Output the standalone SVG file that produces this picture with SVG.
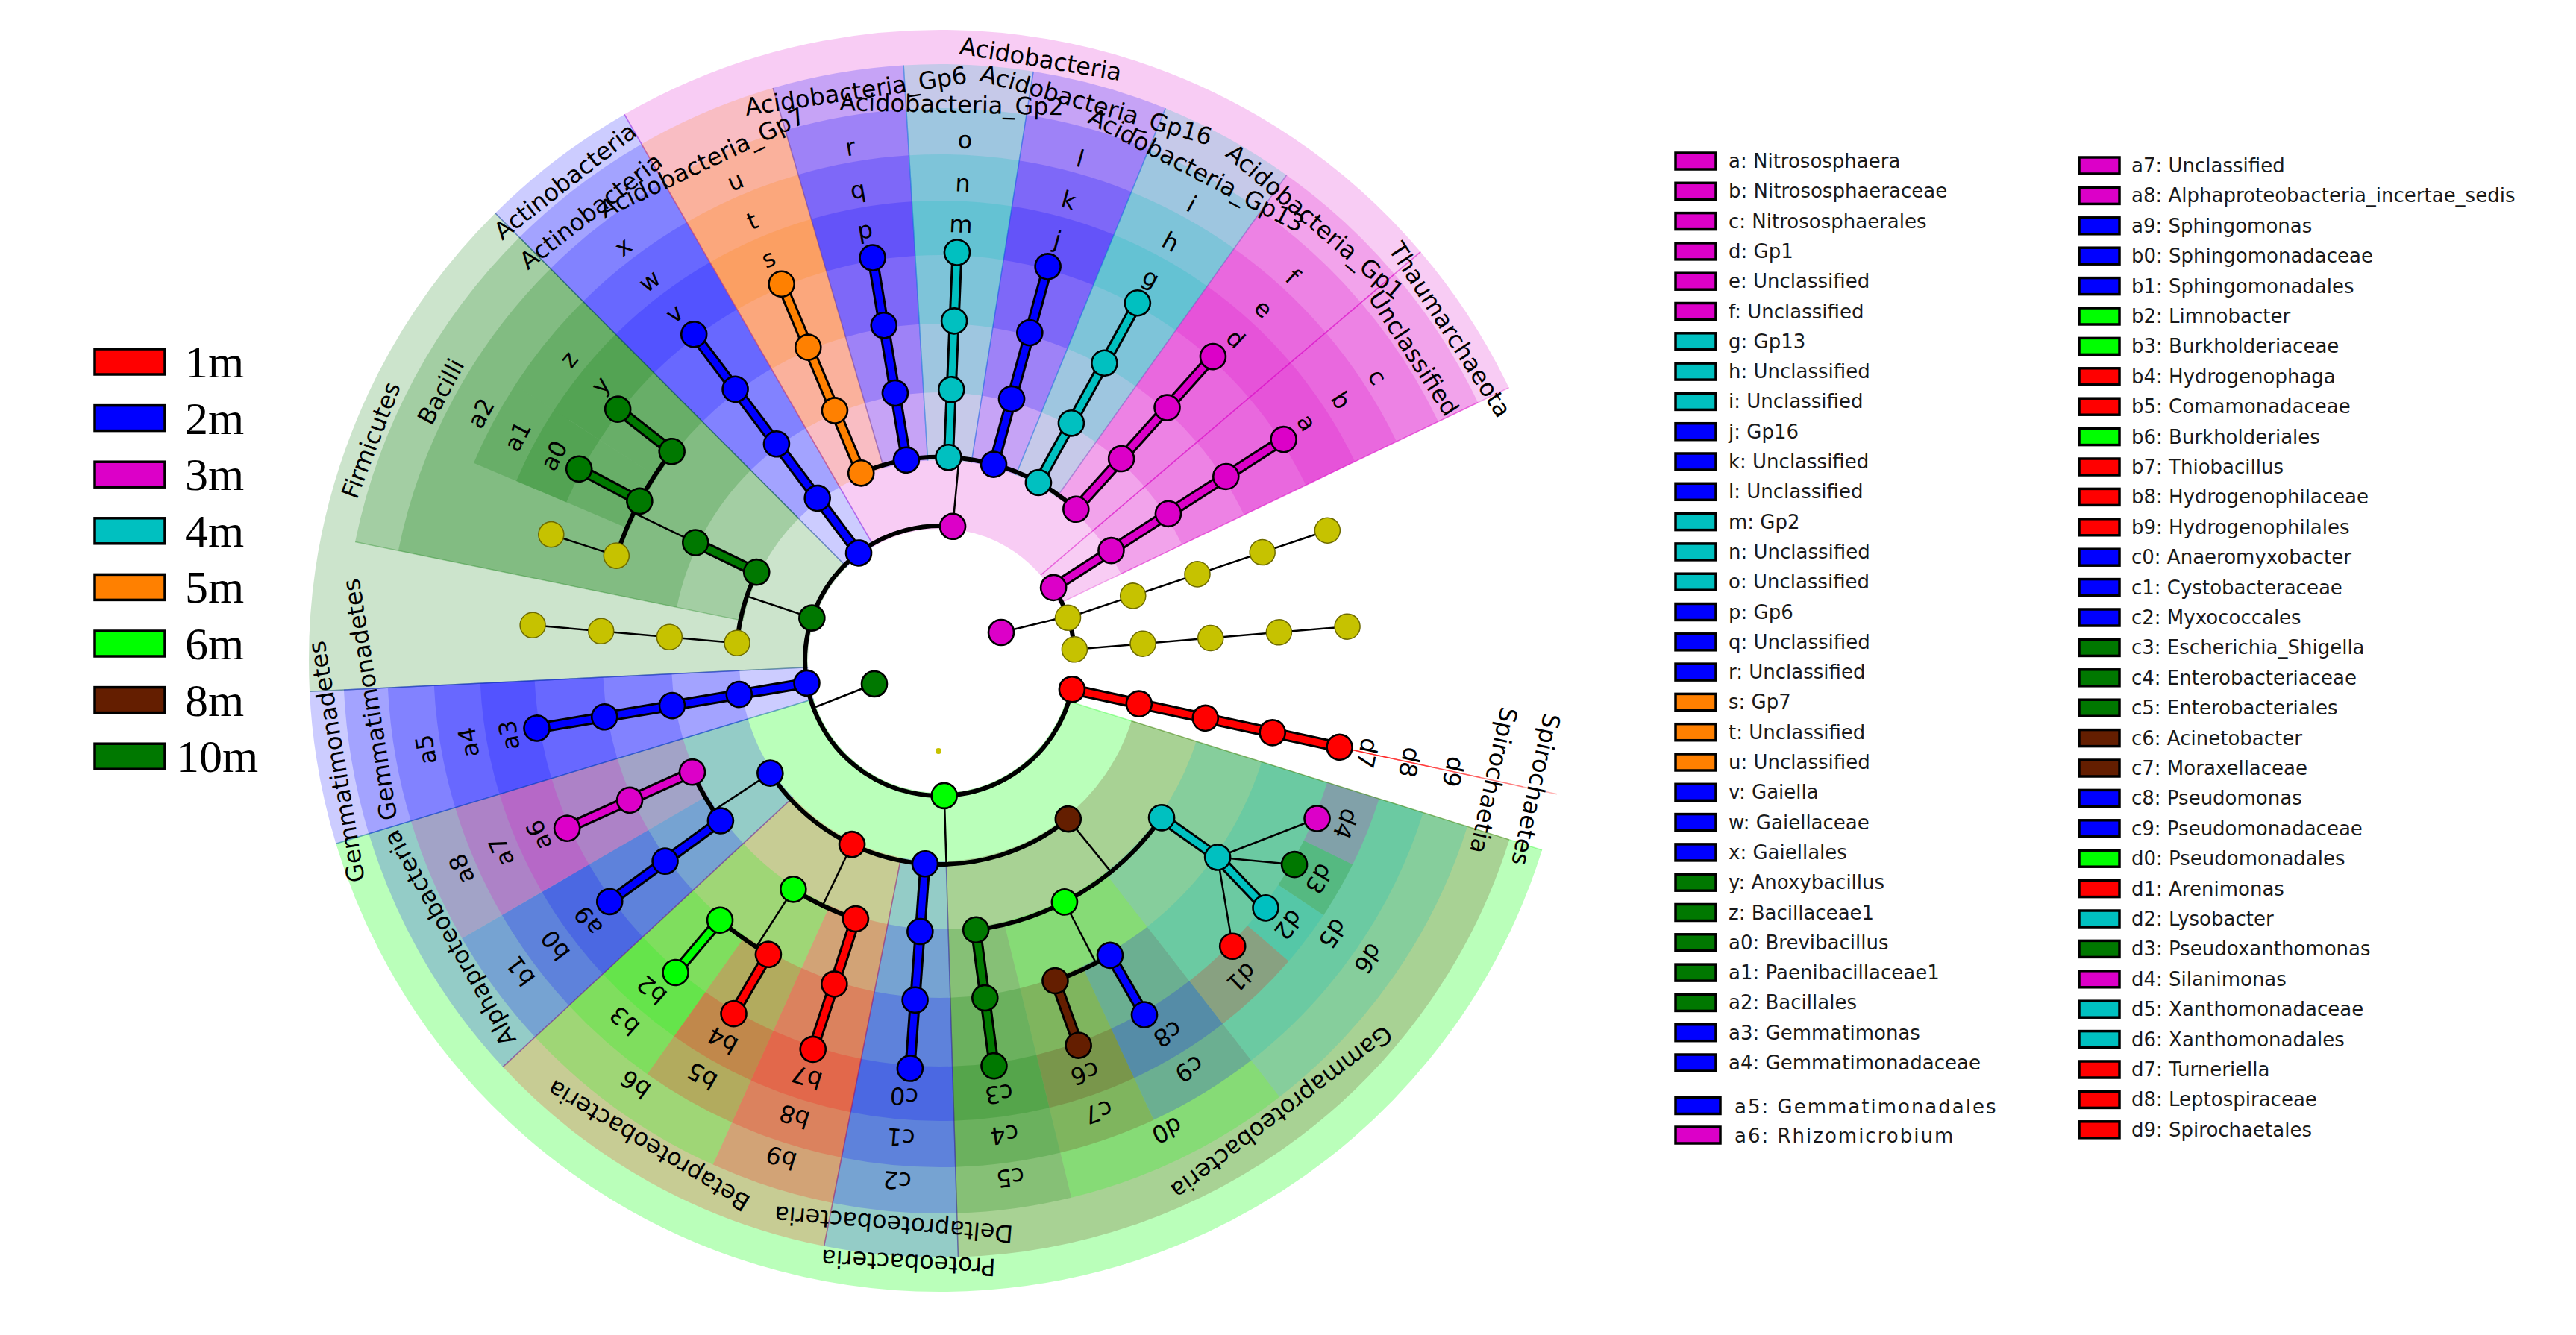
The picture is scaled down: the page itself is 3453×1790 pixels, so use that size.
<svg xmlns="http://www.w3.org/2000/svg" width="3453" height="1790" viewBox="0 0 3453 1790">
<style>
.w{fill:none;stroke-opacity:.2}
.e{stroke-opacity:.3;stroke-width:1.5}
.a{fill:none;stroke:#000;stroke-width:6}
.t{stroke:#000;stroke-width:2.5}
.u{stroke:#000;stroke-width:15}
.k{stroke-width:9}
.n{stroke:#000;stroke-width:2.6}
.y{fill:#c6c200;stroke:#6e6b00;stroke-width:1.5}
.lb{font-family:'DejaVu Sans',sans-serif;font-size:32px;text-anchor:middle;dominant-baseline:central;fill:#000}
.R{fill:#f00}.B{fill:#00f}.M{fill:#dc00c8}.T{fill:#00c0c0}.O{fill:#ff8000}.L{fill:#0f0}.N{fill:#641e00}.G{fill:#007800}
.sR{stroke:#f00}.sB{stroke:#00f}.sM{stroke:#dc00c8}.sT{stroke:#00c0c0}.sO{stroke:#ff8000}.sL{stroke:#0f0}.sN{stroke:#641e00}.sG{stroke:#007800}
.lg{font-family:'DejaVu Sans',sans-serif;font-size:26px;fill:#1a1a1a}
.sw{stroke:#000;stroke-width:3.5}
.ls{font-family:'Liberation Serif','Times New Roman',serif;font-size:62px;fill:#000}
</style>
<rect width="3453" height="1790" fill="#fff"/>
<g transform="translate(1260,886)">
<g id="wedges">
<g id="lev1">
<circle class="w sL" style="stroke-opacity:.27" r="511.5" stroke-width="669" pathLength="360" stroke-dasharray="145.7 360" transform="rotate(17.45)"/>
<circle class="w sB" r="511.5" stroke-width="669" pathLength="360" stroke-dasharray="14.05 360" transform="rotate(163.15)"/>
<circle class="w sG" r="511.5" stroke-width="669" pathLength="360" stroke-dasharray="48 360" transform="rotate(177.2)"/>
<circle class="w sB" r="511.5" stroke-width="669" pathLength="360" stroke-dasharray="14.8 360" transform="rotate(225.2)"/>
<circle class="w sM" r="511.5" stroke-width="669" pathLength="360" stroke-dasharray="79.6 360" transform="rotate(240)"/>
<circle class="w sM" r="511.5" stroke-width="669" pathLength="360" stroke-dasharray="14.75 360" transform="rotate(319.6)"/>
</g>
<g id="lev2">
<circle class="w sN" r="534.5" stroke-width="531" pathLength="360" stroke-dasharray="70.8 360" transform="rotate(17.45)"/>
<circle class="w sB" r="534.5" stroke-width="531" pathLength="360" stroke-dasharray="12.95 360" transform="rotate(88.25)"/>
<circle class="w sR" r="534.5" stroke-width="531" pathLength="360" stroke-dasharray="35.9 360" transform="rotate(101.2)"/>
<circle class="w sB" r="534.5" stroke-width="531" pathLength="360" stroke-dasharray="26.05 360" transform="rotate(137.1)"/>
<circle class="w sB" r="534.5" stroke-width="531" pathLength="360" stroke-dasharray="14.05 360" transform="rotate(163.15)"/>
<circle class="w sG" r="534.5" stroke-width="531" pathLength="360" stroke-dasharray="33.7 360" transform="rotate(191.5)"/>
<circle class="w sB" r="534.5" stroke-width="531" pathLength="360" stroke-dasharray="14.8 360" transform="rotate(225.2)"/>
<circle class="w sO" r="534.5" stroke-width="531" pathLength="360" stroke-dasharray="13.75 360" transform="rotate(240)"/>
<circle class="w sB" r="534.5" stroke-width="531" pathLength="360" stroke-dasharray="12.75 360" transform="rotate(253.75)"/>
<circle class="w sT" r="534.5" stroke-width="531" pathLength="360" stroke-dasharray="12.5 360" transform="rotate(266.5)"/>
<circle class="w sB" r="534.5" stroke-width="531" pathLength="360" stroke-dasharray="13.2 360" transform="rotate(279)"/>
<circle class="w sT" r="534.5" stroke-width="531" pathLength="360" stroke-dasharray="13.3 360" transform="rotate(292.2)"/>
<circle class="w sM" r="534.5" stroke-width="531" pathLength="360" stroke-dasharray="14.1 360" transform="rotate(305.5)"/>
<circle class="w sM" r="534.5" stroke-width="531" pathLength="360" stroke-dasharray="14.75 360" transform="rotate(319.6)"/>
</g>
<g id="lev3">
<circle class="w sT" r="550.5" stroke-width="381" pathLength="360" stroke-dasharray="34.65 360" transform="rotate(17.45)"/>
<circle class="w sL" r="550.5" stroke-width="381" pathLength="360" stroke-dasharray="24.15 360" transform="rotate(52.1)"/>
<circle class="w sG" r="550.5" stroke-width="381" pathLength="360" stroke-dasharray="12 360" transform="rotate(76.25)"/>
<circle class="w sB" r="550.5" stroke-width="381" pathLength="360" stroke-dasharray="12.95 360" transform="rotate(88.25)"/>
<circle class="w sR" r="550.5" stroke-width="381" pathLength="360" stroke-dasharray="13.05 360" transform="rotate(101.2)"/>
<circle class="w sL" r="550.5" stroke-width="381" pathLength="360" stroke-dasharray="22.85 360" transform="rotate(114.25)"/>
<circle class="w sB" r="550.5" stroke-width="381" pathLength="360" stroke-dasharray="12.75 360" transform="rotate(137.1)"/>
<circle class="w sM" r="550.5" stroke-width="381" pathLength="360" stroke-dasharray="13.3 360" transform="rotate(149.85)"/>
<circle class="w sB" r="550.5" stroke-width="381" pathLength="360" stroke-dasharray="14.05 360" transform="rotate(163.15)"/>
<circle class="w sG" r="550.5" stroke-width="381" pathLength="360" stroke-dasharray="33.7 360" transform="rotate(191.5)"/>
<circle class="w sB" r="550.5" stroke-width="381" pathLength="360" stroke-dasharray="14.8 360" transform="rotate(225.2)"/>
<circle class="w sO" r="550.5" stroke-width="381" pathLength="360" stroke-dasharray="13.75 360" transform="rotate(240)"/>
<circle class="w sB" r="550.5" stroke-width="381" pathLength="360" stroke-dasharray="12.75 360" transform="rotate(253.75)"/>
<circle class="w sT" r="550.5" stroke-width="381" pathLength="360" stroke-dasharray="12.5 360" transform="rotate(266.5)"/>
<circle class="w sB" r="550.5" stroke-width="381" pathLength="360" stroke-dasharray="13.2 360" transform="rotate(279)"/>
<circle class="w sT" r="550.5" stroke-width="381" pathLength="360" stroke-dasharray="13.3 360" transform="rotate(292.2)"/>
<circle class="w sM" r="550.5" stroke-width="381" pathLength="360" stroke-dasharray="14.1 360" transform="rotate(305.5)"/>
<circle class="w sM" r="550.5" stroke-width="381" pathLength="360" stroke-dasharray="14.75 360" transform="rotate(319.6)"/>
</g>
<g id="lev4">
<circle class="w sT" r="565.5" stroke-width="227" pathLength="360" stroke-dasharray="34.65 360" transform="rotate(17.45)"/>
<circle class="w sB" r="565.5" stroke-width="227" pathLength="360" stroke-dasharray="12.95 360" transform="rotate(52.1)"/>
<circle class="w sN" r="565.5" stroke-width="227" pathLength="360" stroke-dasharray="11.2 360" transform="rotate(65.05)"/>
<circle class="w sG" r="565.5" stroke-width="227" pathLength="360" stroke-dasharray="12 360" transform="rotate(76.25)"/>
<circle class="w sB" r="565.5" stroke-width="227" pathLength="360" stroke-dasharray="12.95 360" transform="rotate(88.25)"/>
<circle class="w sR" r="565.5" stroke-width="227" pathLength="360" stroke-dasharray="13.05 360" transform="rotate(101.2)"/>
<circle class="w sR" r="565.5" stroke-width="227" pathLength="360" stroke-dasharray="11.05 360" transform="rotate(114.25)"/>
<circle class="w sL" r="565.5" stroke-width="227" pathLength="360" stroke-dasharray="11.8 360" transform="rotate(125.3)"/>
<circle class="w sB" r="565.5" stroke-width="227" pathLength="360" stroke-dasharray="12.75 360" transform="rotate(137.1)"/>
<circle class="w sM" r="565.5" stroke-width="227" pathLength="360" stroke-dasharray="13.3 360" transform="rotate(149.85)"/>
<circle class="w sB" r="565.5" stroke-width="227" pathLength="360" stroke-dasharray="14.05 360" transform="rotate(163.15)"/>
<circle class="w sG" r="565.5" stroke-width="227" pathLength="360" stroke-dasharray="10 360" transform="rotate(203)"/>
<circle class="w sG" r="565.5" stroke-width="227" pathLength="360" stroke-dasharray="12.2 360" transform="rotate(213)"/>
<circle class="w sB" r="565.5" stroke-width="227" pathLength="360" stroke-dasharray="14.8 360" transform="rotate(225.2)"/>
<circle class="w sO" r="565.5" stroke-width="227" pathLength="360" stroke-dasharray="13.75 360" transform="rotate(240)"/>
<circle class="w sB" r="565.5" stroke-width="227" pathLength="360" stroke-dasharray="12.75 360" transform="rotate(253.75)"/>
<circle class="w sT" r="565.5" stroke-width="227" pathLength="360" stroke-dasharray="12.5 360" transform="rotate(266.5)"/>
<circle class="w sB" r="565.5" stroke-width="227" pathLength="360" stroke-dasharray="13.2 360" transform="rotate(279)"/>
<circle class="w sT" r="565.5" stroke-width="227" pathLength="360" stroke-dasharray="13.3 360" transform="rotate(292.2)"/>
<circle class="w sM" r="565.5" stroke-width="227" pathLength="360" stroke-dasharray="14.1 360" transform="rotate(305.5)"/>
<circle class="w sM" r="565.5" stroke-width="227" pathLength="360" stroke-dasharray="14.75 360" transform="rotate(319.6)"/>
</g>
<g id="lev5">
<circle class="w sM" r="580.5" stroke-width="73" pathLength="360" stroke-dasharray="8.85 360" transform="rotate(17.45)"/>
<circle class="w sG" r="580.5" stroke-width="73" pathLength="360" stroke-dasharray="7.25 360" transform="rotate(26.3)"/>
<circle class="w sT" r="580.5" stroke-width="73" pathLength="360" stroke-dasharray="7.2 360" transform="rotate(33.55)"/>
<circle class="w sR" r="580.5" stroke-width="73" pathLength="360" stroke-dasharray="11.35 360" transform="rotate(40.75)"/>
<circle class="w sB" r="580.5" stroke-width="73" pathLength="360" stroke-dasharray="12.95 360" transform="rotate(52.1)"/>
<circle class="w sN" r="580.5" stroke-width="73" pathLength="360" stroke-dasharray="11.2 360" transform="rotate(65.05)"/>
<circle class="w sG" r="580.5" stroke-width="73" pathLength="360" stroke-dasharray="12 360" transform="rotate(76.25)"/>
<circle class="w sB" r="580.5" stroke-width="73" pathLength="360" stroke-dasharray="12.95 360" transform="rotate(88.25)"/>
<circle class="w sR" r="580.5" stroke-width="73" pathLength="360" stroke-dasharray="13.05 360" transform="rotate(101.2)"/>
<circle class="w sR" r="580.5" stroke-width="73" pathLength="360" stroke-dasharray="11.05 360" transform="rotate(114.25)"/>
<circle class="w sL" r="580.5" stroke-width="73" pathLength="360" stroke-dasharray="11.8 360" transform="rotate(125.3)"/>
<circle class="w sB" r="580.5" stroke-width="73" pathLength="360" stroke-dasharray="12.75 360" transform="rotate(137.1)"/>
<circle class="w sM" r="580.5" stroke-width="73" pathLength="360" stroke-dasharray="13.3 360" transform="rotate(149.85)"/>
<circle class="w sB" r="580.5" stroke-width="73" pathLength="360" stroke-dasharray="14.05 360" transform="rotate(163.15)"/>
<circle class="w sG" r="580.5" stroke-width="73" pathLength="360" stroke-dasharray="10 360" transform="rotate(203)"/>
<circle class="w sG" r="580.5" stroke-width="73" pathLength="360" stroke-dasharray="12.2 360" transform="rotate(213)"/>
<circle class="w sB" r="580.5" stroke-width="73" pathLength="360" stroke-dasharray="14.8 360" transform="rotate(225.2)"/>
<circle class="w sO" r="580.5" stroke-width="73" pathLength="360" stroke-dasharray="13.75 360" transform="rotate(240)"/>
<circle class="w sB" r="580.5" stroke-width="73" pathLength="360" stroke-dasharray="12.75 360" transform="rotate(253.75)"/>
<circle class="w sT" r="580.5" stroke-width="73" pathLength="360" stroke-dasharray="12.5 360" transform="rotate(266.5)"/>
<circle class="w sB" r="580.5" stroke-width="73" pathLength="360" stroke-dasharray="13.2 360" transform="rotate(279)"/>
<circle class="w sT" r="580.5" stroke-width="73" pathLength="360" stroke-dasharray="13.3 360" transform="rotate(292.2)"/>
<circle class="w sM" r="580.5" stroke-width="73" pathLength="360" stroke-dasharray="14.1 360" transform="rotate(305.5)"/>
<circle class="w sM" r="580.5" stroke-width="73" pathLength="360" stroke-dasharray="14.75 360" transform="rotate(319.6)"/>
</g>
<g id="wedge-edges">
<line class="e sL" x1="177" x2="846" transform="rotate(17.45)"/><line class="e sL" x1="177" x2="846" transform="rotate(163.15)"/>
<line class="e sB" x1="177" x2="846" transform="rotate(163.15)"/><line class="e sB" x1="177" x2="846" transform="rotate(177.2)"/>
<line class="e sG" x1="177" x2="846" transform="rotate(177.2)"/><line class="e sG" x1="177" x2="846" transform="rotate(225.2)"/>
<line class="e sB" x1="177" x2="846" transform="rotate(225.2)"/><line class="e sB" x1="177" x2="846" transform="rotate(240)"/>
<line class="e sM" x1="177" x2="846" transform="rotate(240)"/><line class="e sM" x1="177" x2="846" transform="rotate(319.6)"/>
<line class="e sM" x1="177" x2="846" transform="rotate(319.6)"/><line class="e sM" x1="177" x2="846" transform="rotate(334.35)"/>
<line class="e sN" x1="269" x2="800" transform="rotate(17.45)"/><line class="e sN" x1="269" x2="800" transform="rotate(88.25)"/>
<line class="e sB" x1="269" x2="800" transform="rotate(88.25)"/><line class="e sB" x1="269" x2="800" transform="rotate(101.2)"/>
<line class="e sR" x1="269" x2="800" transform="rotate(101.2)"/><line class="e sR" x1="269" x2="800" transform="rotate(137.1)"/>
<line class="e sB" x1="269" x2="800" transform="rotate(137.1)"/><line class="e sB" x1="269" x2="800" transform="rotate(163.15)"/>
<line class="e sB" x1="269" x2="800" transform="rotate(177.2)"/>
<line class="e sG" x1="269" x2="800" transform="rotate(191.5)"/><line class="e sG" x1="269" x2="800" transform="rotate(225.2)"/>
<line class="e sO" x1="269" x2="800" transform="rotate(240)"/><line class="e sO" x1="269" x2="800" transform="rotate(253.75)"/>
<line class="e sB" x1="269" x2="800" transform="rotate(253.75)"/><line class="e sB" x1="269" x2="800" transform="rotate(266.5)"/>
<line class="e sT" x1="269" x2="800" transform="rotate(266.5)"/><line class="e sT" x1="269" x2="800" transform="rotate(279)"/>
<line class="e sB" x1="269" x2="800" transform="rotate(279)"/><line class="e sB" x1="269" x2="800" transform="rotate(292.2)"/>
<line class="e sT" x1="269" x2="800" transform="rotate(292.2)"/><line class="e sT" x1="269" x2="800" transform="rotate(305.5)"/>
<line class="e sM" x1="269" x2="800" transform="rotate(305.5)"/><line class="e sM" x1="269" x2="800" transform="rotate(319.6)"/>
<line class="e sM" x1="269" x2="800" transform="rotate(334.35)"/>
<line class="e sR" x1="177" x2="846" transform="rotate(12.2)"/><line class="e sR" x1="269" x2="800" transform="rotate(12.2)"/>
<line class="e sR" x1="360" x2="741" transform="rotate(12.2)"/><line class="e sR" x1="452" x2="679" transform="rotate(12.2)"/>
<line class="e sR" x1="544" x2="617" transform="rotate(12.2)"/>
</g>
</g>
<g id="connectors">
<g id="arcs">
<circle class="a" r="181" pathLength="360" stroke-dasharray="263.2 360" transform="rotate(12.2)"/>
<circle class="a" r="181" pathLength="360" stroke-dasharray="28 360" transform="rotate(-32.8)"/>
<circle class="a" r="273" pathLength="360" stroke-dasharray="95.5 360" transform="rotate(51)"/>
<circle class="a" r="364" pathLength="360" stroke-dasharray="47.1 360" transform="rotate(35.3)"/>
<circle class="a" r="456" pathLength="360" stroke-dasharray="10.2 360" transform="rotate(60)"/>
<circle class="a" r="364" pathLength="360" stroke-dasharray="14.6 360" transform="rotate(108.1)"/>
<circle class="a" r="456" pathLength="360" stroke-dasharray="10 360" transform="rotate(120.3)"/>
<circle class="a" r="364" pathLength="360" stroke-dasharray="11.9 360" transform="rotate(143.9)"/>
<circle class="a" r="273" pathLength="360" stroke-dasharray="20.8 360" transform="rotate(185)"/>
<circle class="a" r="456" pathLength="360" stroke-dasharray="20 360" transform="rotate(198)"/>
<circle class="a" r="273" pathLength="360" stroke-dasharray="64.7 360" transform="rotate(247.2)"/>
</g>
<g id="thin-edges">
<line class="t" x1="181" x2="273" transform="rotate(88.2)"/>
<line class="t" x1="273" x2="364" transform="rotate(51)"/>
<line class="t" x1="364" x2="456" transform="rotate(62.7)"/>
<line class="t" x1="273" x2="364" transform="rotate(115.6)"/>
<line class="t" x1="364" x2="456" transform="rotate(122.7)"/>
<line class="t" x1="273" x2="364" transform="rotate(146.5)"/>
<line class="t" x1="181" x2="273" transform="rotate(198.5)"/>
<line class="t" x1="364" x2="456" transform="rotate(205.8)"/>
<line class="t" x1="181" x2="273" transform="rotate(275.4)"/>
<line class="t" x1="273" x2="548" transform="rotate(185)"/>
<line class="t" x1="456" x2="548" transform="rotate(198)"/>
<line class="t" x1="181" x2="548" transform="rotate(341.4)"/>
<line class="t" x1="181" x2="548" transform="rotate(355.2)"/>
<line class="t" x1="372.1" y1="263.5" x2="505.6" y2="211.5"/>
<line class="t" x1="372.1" y1="263.5" x2="475.1" y2="273.2"/>
<line class="t" x1="372.1" y1="263.5" x2="392.2" y2="382.7"/>
<line class="t" x1="82" y1="-38" x2="172" y2="-60"/>
<line class="t" x1="-88" y1="31" x2="-167" y2="62"/>
</g>
<g id="thick-edges-outline">
<line class="u" x1="181" x2="548" transform="rotate(12.2)"/>
<line class="u" x1="364" x2="456" transform="rotate(35.3)"/>
<line class="u" x1="372.1" y1="263.5" x2="436.5" y2="331.3"/>
<line class="u" x1="456" x2="548" transform="rotate(60)"/>
<line class="u" x1="456" x2="548" transform="rotate(70.2)"/>
<line class="u" x1="364" x2="548" transform="rotate(82.4)"/>
<line class="u" x1="273" x2="548" transform="rotate(94.2)"/>
<line class="u" x1="364" x2="548" transform="rotate(108.1)"/>
<line class="u" x1="456" x2="548" transform="rotate(120.3)"/>
<line class="u" x1="456" x2="548" transform="rotate(130.3)"/>
<line class="u" x1="364" x2="548" transform="rotate(143.9)"/>
<line class="u" x1="364" x2="548" transform="rotate(155.8)"/>
<line class="u" x1="181" x2="548" transform="rotate(170.5)"/>
<line class="u" x1="273" x2="364" transform="rotate(205.8)"/>
<line class="u" x1="456" x2="548" transform="rotate(208)"/>
<line class="u" x1="456" x2="548" transform="rotate(218)"/>
<line class="u" x1="181" x2="548" transform="rotate(233)"/>
<line class="u" x1="273" x2="548" transform="rotate(247.2)"/>
<line class="u" x1="273" x2="548" transform="rotate(260.5)"/>
<line class="u" x1="273" x2="548" transform="rotate(272.4)"/>
<line class="u" x1="273" x2="548" transform="rotate(285.3)"/>
<line class="u" x1="273" x2="548" transform="rotate(298.9)"/>
<line class="u" x1="273" x2="548" transform="rotate(311.9)"/>
<line class="u" x1="181" x2="548" transform="rotate(327.2)"/>
</g>
<g id="thick-edges">
<line class="k sR" x1="181" x2="548" transform="rotate(12.2)"/>
<line class="k sT" x1="364" x2="456" transform="rotate(35.3)"/>
<line class="k sT" x1="372.1" y1="263.5" x2="436.5" y2="331.3"/>
<line class="k sB" x1="456" x2="548" transform="rotate(60)"/>
<line class="k sN" x1="456" x2="548" transform="rotate(70.2)"/>
<line class="k sG" x1="364" x2="548" transform="rotate(82.4)"/>
<line class="k sB" x1="273" x2="548" transform="rotate(94.2)"/>
<line class="k sR" x1="364" x2="548" transform="rotate(108.1)"/>
<line class="k sR" x1="456" x2="548" transform="rotate(120.3)"/>
<line class="k sL" x1="456" x2="548" transform="rotate(130.3)"/>
<line class="k sB" x1="364" x2="548" transform="rotate(143.9)"/>
<line class="k sM" x1="364" x2="548" transform="rotate(155.8)"/>
<line class="k sB" x1="181" x2="548" transform="rotate(170.5)"/>
<line class="k sG" x1="273" x2="364" transform="rotate(205.8)"/>
<line class="k sG" x1="456" x2="548" transform="rotate(208)"/>
<line class="k sG" x1="456" x2="548" transform="rotate(218)"/>
<line class="k sB" x1="181" x2="548" transform="rotate(233)"/>
<line class="k sO" x1="273" x2="548" transform="rotate(247.2)"/>
<line class="k sB" x1="273" x2="548" transform="rotate(260.5)"/>
<line class="k sT" x1="273" x2="548" transform="rotate(272.4)"/>
<line class="k sB" x1="273" x2="548" transform="rotate(285.3)"/>
<line class="k sT" x1="273" x2="548" transform="rotate(298.9)"/>
<line class="k sM" x1="273" x2="548" transform="rotate(311.9)"/>
<line class="k sM" x1="181" x2="548" transform="rotate(327.2)"/>
</g>
</g>
<g id="nodes">
<g id="node-root"><circle cx="-2" cy="121" r="4" fill="#c6c200"/></g>
<g id="node-Bacteria"><circle class="n G" cx="-88" cy="31" r="17"/></g>
<g id="node-Archaea"><circle class="n M" cx="82" cy="-38" r="17"/></g>
<g id="node-Spirochaetes"><circle class="n R" cx="181" r="17" transform="rotate(12.2)"/><text class="lb" font-size="33" transform="rotate(12.2) translate(817) rotate(90)">Spirochaetes</text></g>
<g id="node-Spirochaetia"><circle class="n R" cx="273" r="17" transform="rotate(12.2)"/><text class="lb" font-size="33" transform="rotate(12.2) translate(759) rotate(90)">Spirochaetia</text></g>
<g id="node-d9"><circle class="n R" cx="364" r="17" transform="rotate(12.2)"/><text class="lb" transform="rotate(12.2) translate(704) rotate(90)">d9</text></g>
<g id="node-d8"><circle class="n R" cx="456" r="17" transform="rotate(12.2)"/><text class="lb" transform="rotate(12.2) translate(644) rotate(90)">d8</text></g>
<g id="node-d7"><circle class="n R" cx="548" r="17" transform="rotate(12.2)"/><text class="lb" transform="rotate(12.2) translate(586) rotate(90)">d7</text></g>
<g id="node-Proteobacteria"><circle class="n L" cx="181" r="17" transform="rotate(88.2)"/><text class="lb" font-size="33" transform="rotate(93) translate(808) rotate(90)">Proteobacteria</text></g>
<g id="node-Gammaproteobacteria"><circle class="n N" cx="273" r="17" transform="rotate(51)"/><text class="lb" font-size="33" transform="rotate(52.9) translate(759) rotate(90)">Gammaproteobacteria</text></g>
<g id="node-d6"><circle class="n T" cx="364" r="17" transform="rotate(35.3)"/><text class="lb" transform="rotate(34.8) translate(699) rotate(90)">d6</text></g>
<g id="node-d5"><circle class="n T" cx="456" r="17" transform="rotate(35.3)"/><text class="lb" transform="rotate(34.8) translate(641) rotate(90)">d5</text></g>
<g id="node-d4"><circle class="n M" cx="548" r="17" transform="rotate(22.7)"/><text class="lb" transform="rotate(21.9) translate(586) rotate(90)">d4</text></g>
<g id="node-d3"><circle class="n G" cx="548" r="17" transform="rotate(29.9)"/><text class="lb" transform="rotate(29.9) translate(586) rotate(90)">d3</text></g>
<g id="node-d2"><circle class="n T" cx="548" r="17" transform="rotate(37.2)"/><text class="lb" transform="rotate(37.15) translate(586) rotate(90)">d2</text></g>
<g id="node-d1"><circle class="n R" cx="548" r="17" transform="rotate(44.3)"/><text class="lb" transform="rotate(46.4) translate(586) rotate(90)">d1</text></g>
<g id="node-d0"><circle class="n L" cx="364" r="17" transform="rotate(62.7)"/><text class="lb" transform="rotate(64.2) translate(699) rotate(90)">d0</text></g>
<g id="node-c9"><circle class="n B" cx="456" r="17" transform="rotate(60)"/><text class="lb" transform="rotate(58.6) translate(641) rotate(90)">c9</text></g>
<g id="node-c8"><circle class="n B" cx="548" r="17" transform="rotate(60)"/><text class="lb" transform="rotate(58.6) translate(586) rotate(90)">c8</text></g>
<g id="node-c7"><circle class="n N" cx="456" r="17" transform="rotate(70.2)"/><text class="lb" transform="rotate(70.65) translate(641) rotate(90)">c7</text></g>
<g id="node-c6"><circle class="n N" cx="548" r="17" transform="rotate(70.2)"/><text class="lb" transform="rotate(70.65) translate(586) rotate(90)">c6</text></g>
<g id="node-c5"><circle class="n G" cx="364" r="17" transform="rotate(82.4)"/><text class="lb" transform="rotate(82.25) translate(699) rotate(90)">c5</text></g>
<g id="node-c4"><circle class="n G" cx="456" r="17" transform="rotate(82.4)"/><text class="lb" transform="rotate(82.25) translate(641) rotate(90)">c4</text></g>
<g id="node-c3"><circle class="n G" cx="548" r="17" transform="rotate(82.4)"/><text class="lb" transform="rotate(82.25) translate(586) rotate(90)">c3</text></g>
<g id="node-Deltaproteobacteria"><circle class="n B" cx="273" r="17" transform="rotate(94.2)"/><text class="lb" font-size="33" transform="rotate(94.7) translate(758) rotate(90)">Deltaproteobacteria</text></g>
<g id="node-c2"><circle class="n B" cx="364" r="17" transform="rotate(94.2)"/><text class="lb" transform="rotate(94.7) translate(699) rotate(90)">c2</text></g>
<g id="node-c1"><circle class="n B" cx="456" r="17" transform="rotate(94.2)"/><text class="lb" transform="rotate(94.7) translate(641) rotate(90)">c1</text></g>
<g id="node-c0"><circle class="n B" cx="548" r="17" transform="rotate(94.2)"/><text class="lb" transform="rotate(94.7) translate(586) rotate(90)">c0</text></g>
<g id="node-Betaproteobacteria"><circle class="n R" cx="273" r="17" transform="rotate(115.6)"/><text class="lb" font-size="33" transform="rotate(121) translate(758) rotate(90)">Betaproteobacteria</text></g>
<g id="node-b9"><circle class="n R" cx="364" r="17" transform="rotate(108.1)"/><text class="lb" transform="rotate(107.7) translate(699) rotate(90)">b9</text></g>
<g id="node-b8"><circle class="n R" cx="456" r="17" transform="rotate(108.1)"/><text class="lb" transform="rotate(107.7) translate(641) rotate(90)">b8</text></g>
<g id="node-b7"><circle class="n R" cx="548" r="17" transform="rotate(108.1)"/><text class="lb" transform="rotate(107.7) translate(586) rotate(90)">b7</text></g>
<g id="node-b6"><circle class="n L" cx="364" r="17" transform="rotate(122.7)"/><text class="lb" transform="rotate(125.7) translate(699) rotate(90)">b6</text></g>
<g id="node-b5"><circle class="n R" cx="456" r="17" transform="rotate(120.3)"/><text class="lb" transform="rotate(119.8) translate(641) rotate(90)">b5</text></g>
<g id="node-b4"><circle class="n R" cx="548" r="17" transform="rotate(120.3)"/><text class="lb" transform="rotate(119.8) translate(586) rotate(90)">b4</text></g>
<g id="node-b3"><circle class="n L" cx="456" r="17" transform="rotate(130.3)"/><text class="lb" transform="rotate(131.2) translate(641) rotate(90)">b3</text></g>
<g id="node-b2"><circle class="n L" cx="548" r="17" transform="rotate(130.3)"/><text class="lb" transform="rotate(131.2) translate(586) rotate(90)">b2</text></g>
<g id="node-Alphaproteobacteria"><circle class="n B" cx="273" r="17" transform="rotate(146.5)"/><text class="lb" font-size="33" transform="rotate(150.5) translate(755) rotate(90)">Alphaproteobacteria</text></g>
<g id="node-b1"><circle class="n B" cx="364" r="17" transform="rotate(143.9)"/><text class="lb" transform="rotate(143.5) translate(699) rotate(90)">b1</text></g>
<g id="node-b0"><circle class="n B" cx="456" r="17" transform="rotate(143.9)"/><text class="lb" transform="rotate(143.5) translate(641) rotate(90)">b0</text></g>
<g id="node-a9"><circle class="n B" cx="548" r="17" transform="rotate(143.9)"/><text class="lb" transform="rotate(143.5) translate(586) rotate(90)">a9</text></g>
<g id="node-a8"><circle class="n M" cx="364" r="17" transform="rotate(155.8)"/><text class="lb" transform="rotate(156.5) translate(699) rotate(90)">a8</text></g>
<g id="node-a7"><circle class="n M" cx="456" r="17" transform="rotate(155.8)"/><text class="lb" transform="rotate(156.5) translate(641) rotate(90)">a7</text></g>
<g id="node-a6"><circle class="n M" cx="548" r="17" transform="rotate(155.8)"/><text class="lb" transform="rotate(156.5) translate(586) rotate(90)">a6</text></g>
<g id="node-Gemmatimonadetes-phylum"><circle class="n B" cx="181" r="17" transform="rotate(170.5)"/><text class="lb" font-size="34" transform="rotate(170.5) translate(820) rotate(90)">Gemmatimonadetes</text></g>
<g id="node-Gemmatimonadetes-class"><circle class="n B" cx="273" r="17" transform="rotate(170.5)"/><text class="lb" font-size="34" transform="translate(-764,52) rotate(-99)">Gemmatimonadetes</text></g>
<g id="node-a5"><circle class="n B" cx="364" r="17" transform="rotate(170.5)"/><text class="lb" transform="rotate(170.2) translate(699) rotate(90)">a5</text></g>
<g id="node-a4"><circle class="n B" cx="456" r="17" transform="rotate(170.5)"/><text class="lb" transform="rotate(170.2) translate(641) rotate(90)">a4</text></g>
<g id="node-a3"><circle class="n B" cx="548" r="17" transform="rotate(170.5)"/><text class="lb" transform="rotate(170.2) translate(586) rotate(90)">a3</text></g>
<g id="node-Firmicutes"><circle class="n G" cx="181" r="17" transform="rotate(198.5)"/><text class="lb" font-size="35" transform="rotate(201.2) translate(818) rotate(90)">Firmicutes</text></g>
<g id="node-Firmicutes-other"><circle class="y" cx="273" r="17" transform="rotate(185)"/><circle class="y" cx="364" r="17" transform="rotate(185)"/><circle class="y" cx="456" r="17" transform="rotate(185)"/><circle class="y" cx="548" r="17" transform="rotate(185)"/></g>
<g id="node-Bacilli"><circle class="n G" cx="273" r="17" transform="rotate(205.8)"/><text class="lb" font-size="35" transform="rotate(208.35) translate(760) rotate(90)">Bacilli</text></g>
<g id="node-a2"><circle class="n G" cx="364" r="17" transform="rotate(205.8)"/><text class="lb" transform="rotate(208.35) translate(699) rotate(90)">a2</text></g>
<g id="node-Bacillales-other"><circle class="y" cx="456" r="17" transform="rotate(198)"/><circle class="y" cx="548" r="17" transform="rotate(198)"/></g>
<g id="node-a1"><circle class="n G" cx="456" r="17" transform="rotate(208)"/><text class="lb" transform="rotate(208) translate(641) rotate(90)">a1</text></g>
<g id="node-a0"><circle class="n G" cx="548" r="17" transform="rotate(208)"/><text class="lb" transform="rotate(208) translate(586) rotate(90)">a0</text></g>
<g id="node-z"><circle class="n G" cx="456" r="17" transform="rotate(218)"/><text class="lb" transform="rotate(219.1) translate(641) rotate(90)">z</text></g>
<g id="node-y"><circle class="n G" cx="548" r="17" transform="rotate(218)"/><text class="lb" transform="rotate(219.1) translate(586) rotate(90)">y</text></g>
<g id="node-Actinobacteria-phylum"><circle class="n B" cx="181" r="17" transform="rotate(233)"/><text class="lb" font-size="34.5" transform="rotate(232) translate(816) rotate(90)">Actinobacteria</text></g>
<g id="node-Actinobacteria-class"><circle class="n B" cx="273" r="17" transform="rotate(233)"/><text class="lb" font-size="27" transform="rotate(232.2) translate(763) rotate(90)">Actinobacteria</text></g>
<g id="node-x"><circle class="n B" cx="364" r="17" transform="rotate(233)"/><text class="lb" transform="rotate(232.6) translate(699) rotate(90)">x</text></g>
<g id="node-w"><circle class="n B" cx="456" r="17" transform="rotate(233)"/><text class="lb" transform="rotate(232.6) translate(641) rotate(90)">w</text></g>
<g id="node-v"><circle class="n B" cx="548" r="17" transform="rotate(233)"/><text class="lb" transform="rotate(232.6) translate(586) rotate(90)">v</text></g>
<g id="node-Acidobacteria"><circle class="n M" cx="181" r="17" transform="rotate(275.4)"/><text class="lb" font-size="34.5" transform="rotate(279.5) translate(818) rotate(90)">Acidobacteria</text></g>
<g id="node-Acidobacteria_Gp7"><circle class="n O" cx="273" r="17" transform="rotate(247.2)"/><text class="lb" font-size="23.5" transform="rotate(244.5) translate(740) rotate(90)">Acidobacteria_Gp7</text></g>
<g id="node-u"><circle class="n O" cx="364" r="17" transform="rotate(247.2)"/><text class="lb" transform="rotate(246.9) translate(699) rotate(90)">u</text></g>
<g id="node-t"><circle class="n O" cx="456" r="17" transform="rotate(247.2)"/><text class="lb" transform="rotate(246.9) translate(641) rotate(90)">t</text></g>
<g id="node-s"><circle class="n O" cx="548" r="17" transform="rotate(247.2)"/><text class="lb" transform="rotate(246.9) translate(586) rotate(90)">s</text></g>
<g id="node-Acidobacteria_Gp6"><circle class="n B" cx="273" r="17" transform="rotate(260.5)"/><text class="lb" font-size="24" transform="rotate(261.6) translate(772) rotate(90)">Acidobacteria_Gp6</text></g>
<g id="node-r"><circle class="n B" cx="364" r="17" transform="rotate(260.5)"/><text class="lb" transform="rotate(260.1) translate(699) rotate(90)">r</text></g>
<g id="node-q"><circle class="n B" cx="456" r="17" transform="rotate(260.5)"/><text class="lb" transform="rotate(260.1) translate(641) rotate(90)">q</text></g>
<g id="node-p"><circle class="n B" cx="548" r="17" transform="rotate(260.5)"/><text class="lb" transform="rotate(260.1) translate(586) rotate(90)">p</text></g>
<g id="node-Acidobacteria_Gp2"><circle class="n T" cx="273" r="17" transform="rotate(272.4)"/><text class="lb" font-size="23.5" transform="rotate(271.2) translate(746) rotate(90)">Acidobacteria_Gp2</text></g>
<g id="node-o"><circle class="n T" cx="364" r="17" transform="rotate(272.4)"/><text class="lb" transform="rotate(272.75) translate(699) rotate(90)">o</text></g>
<g id="node-n"><circle class="n T" cx="456" r="17" transform="rotate(272.4)"/><text class="lb" transform="rotate(272.75) translate(641) rotate(90)">n</text></g>
<g id="node-m"><circle class="n T" cx="548" r="17" transform="rotate(272.4)"/><text class="lb" transform="rotate(272.75) translate(586) rotate(90)">m</text></g>
<g id="node-Acidobacteria_Gp16"><circle class="n B" cx="273" r="17" transform="rotate(285.3)"/><text class="lb" font-size="23.5" transform="rotate(285.7) translate(774) rotate(90)">Acidobacteria_Gp16</text></g>
<g id="node-l"><circle class="n B" cx="364" r="17" transform="rotate(285.3)"/><text class="lb" transform="rotate(285.6) translate(699) rotate(90)">l</text></g>
<g id="node-k"><circle class="n B" cx="456" r="17" transform="rotate(285.3)"/><text class="lb" transform="rotate(285.6) translate(641) rotate(90)">k</text></g>
<g id="node-j"><circle class="n B" cx="548" r="17" transform="rotate(285.3)"/><text class="lb" transform="rotate(285.6) translate(586) rotate(90)">j</text></g>
<g id="node-Acidobacteria_Gp13"><circle class="n T" cx="273" r="17" transform="rotate(298.9)"/><text class="lb" font-size="23" transform="rotate(297.6) translate(742) rotate(90)">Acidobacteria_Gp13</text></g>
<g id="node-i"><circle class="n T" cx="364" r="17" transform="rotate(298.9)"/><text class="lb" transform="rotate(298.85) translate(699) rotate(90)">i</text></g>
<g id="node-h"><circle class="n T" cx="456" r="17" transform="rotate(298.9)"/><text class="lb" transform="rotate(298.85) translate(641) rotate(90)">h</text></g>
<g id="node-g"><circle class="n T" cx="548" r="17" transform="rotate(298.9)"/><text class="lb" transform="rotate(298.85) translate(586) rotate(90)">g</text></g>
<g id="node-Acidobacteria_Gp1"><circle class="n M" cx="273" r="17" transform="rotate(311.9)"/><text class="lb" font-size="24" transform="rotate(310.5) translate(774) rotate(90)">Acidobacteria_Gp1</text></g>
<g id="node-f"><circle class="n M" cx="364" r="17" transform="rotate(311.9)"/><text class="lb" transform="rotate(312.55) translate(699) rotate(90)">f</text></g>
<g id="node-e"><circle class="n M" cx="456" r="17" transform="rotate(311.9)"/><text class="lb" transform="rotate(312.55) translate(641) rotate(90)">e</text></g>
<g id="node-d"><circle class="n M" cx="548" r="17" transform="rotate(311.9)"/><text class="lb" transform="rotate(312.55) translate(586) rotate(90)">d</text></g>
<g id="node-Thaumarchaeota"><circle class="n M" cx="181" r="17" transform="rotate(327.2)"/><text class="lb" font-size="33" transform="rotate(327) translate(815) rotate(90)">Thaumarchaeota</text></g>
<g id="node-Thaum-Unclassified"><circle class="n M" cx="273" r="17" transform="rotate(327.2)"/><text class="lb" font-size="30" transform="rotate(327) translate(757) rotate(90)">Unclassified</text></g>
<g id="node-c"><circle class="n M" cx="364" r="17" transform="rotate(327.2)"/><text class="lb" transform="rotate(327) translate(699) rotate(90)">c</text></g>
<g id="node-b"><circle class="n M" cx="456" r="17" transform="rotate(327.2)"/><text class="lb" transform="rotate(327) translate(641) rotate(90)">b</text></g>
<g id="node-a"><circle class="n M" cx="548" r="17" transform="rotate(327.2)"/><text class="lb" transform="rotate(327) translate(586) rotate(90)">a</text></g>
<g id="node-archaea-other1"><circle class="y" cx="181" r="17" transform="rotate(341.4)"/><circle class="y" cx="273" r="17" transform="rotate(341.4)"/><circle class="y" cx="364" r="17" transform="rotate(341.4)"/><circle class="y" cx="456" r="17" transform="rotate(341.4)"/><circle class="y" cx="548" r="17" transform="rotate(341.4)"/></g>
<g id="node-archaea-other2"><circle class="y" cx="181" r="17" transform="rotate(355.2)"/><circle class="y" cx="273" r="17" transform="rotate(355.2)"/><circle class="y" cx="364" r="17" transform="rotate(355.2)"/><circle class="y" cx="456" r="17" transform="rotate(355.2)"/><circle class="y" cx="548" r="17" transform="rotate(355.2)"/></g>
</g>
</g>
<g id="legend-depth">
<rect class="sw R" x="127" y="468" width="94" height="34"/><text class="ls" x="248" y="506">1m</text>
<rect class="sw B" x="127" y="543.6" width="94" height="34"/><text class="ls" x="248" y="581.6">2m</text>
<rect class="sw M" x="127" y="619.2" width="94" height="34"/><text class="ls" x="248" y="657.2">3m</text>
<rect class="sw T" x="127" y="694.8" width="94" height="34"/><text class="ls" x="248" y="732.8">4m</text>
<rect class="sw O" x="127" y="770.4" width="94" height="34"/><text class="ls" x="248" y="808.4">5m</text>
<rect class="sw L" x="127" y="846" width="94" height="34"/><text class="ls" x="248" y="884">6m</text>
<rect class="sw N" x="127" y="921.6" width="94" height="34"/><text class="ls" x="248" y="959.6">8m</text>
<rect class="sw G" x="127" y="997.2" width="94" height="34"/><text class="ls" x="236" y="1035.2">10m</text>
</g>
<g id="legend-taxa-1" transform="translate(2246,0)">
<g transform="translate(0,216)"><rect class="sw M" y="-11" width="54" height="22"/><text class="lg" x="71" y="9">a: Nitrososphaera</text></g>
<g transform="translate(0,256.3)"><rect class="sw M" y="-11" width="54" height="22"/><text class="lg" x="71" y="9">b: Nitrososphaeraceae</text></g>
<g transform="translate(0,296.6)"><rect class="sw M" y="-11" width="54" height="22"/><text class="lg" x="71" y="9">c: Nitrososphaerales</text></g>
<g transform="translate(0,336.9)"><rect class="sw M" y="-11" width="54" height="22"/><text class="lg" x="71" y="9">d: Gp1</text></g>
<g transform="translate(0,377.2)"><rect class="sw M" y="-11" width="54" height="22"/><text class="lg" x="71" y="9">e: Unclassified</text></g>
<g transform="translate(0,417.5)"><rect class="sw M" y="-11" width="54" height="22"/><text class="lg" x="71" y="9">f: Unclassified</text></g>
<g transform="translate(0,457.8)"><rect class="sw T" y="-11" width="54" height="22"/><text class="lg" x="71" y="9">g: Gp13</text></g>
<g transform="translate(0,498.1)"><rect class="sw T" y="-11" width="54" height="22"/><text class="lg" x="71" y="9">h: Unclassified</text></g>
<g transform="translate(0,538.4)"><rect class="sw T" y="-11" width="54" height="22"/><text class="lg" x="71" y="9">i: Unclassified</text></g>
<g transform="translate(0,578.7)"><rect class="sw B" y="-11" width="54" height="22"/><text class="lg" x="71" y="9">j: Gp16</text></g>
<g transform="translate(0,619)"><rect class="sw B" y="-11" width="54" height="22"/><text class="lg" x="71" y="9">k: Unclassified</text></g>
<g transform="translate(0,659.3)"><rect class="sw B" y="-11" width="54" height="22"/><text class="lg" x="71" y="9">l: Unclassified</text></g>
<g transform="translate(0,699.6)"><rect class="sw T" y="-11" width="54" height="22"/><text class="lg" x="71" y="9">m: Gp2</text></g>
<g transform="translate(0,739.9)"><rect class="sw T" y="-11" width="54" height="22"/><text class="lg" x="71" y="9">n: Unclassified</text></g>
<g transform="translate(0,780.2)"><rect class="sw T" y="-11" width="54" height="22"/><text class="lg" x="71" y="9">o: Unclassified</text></g>
<g transform="translate(0,820.5)"><rect class="sw B" y="-11" width="54" height="22"/><text class="lg" x="71" y="9">p: Gp6</text></g>
<g transform="translate(0,860.8)"><rect class="sw B" y="-11" width="54" height="22"/><text class="lg" x="71" y="9">q: Unclassified</text></g>
<g transform="translate(0,901.1)"><rect class="sw B" y="-11" width="54" height="22"/><text class="lg" x="71" y="9">r: Unclassified</text></g>
<g transform="translate(0,941.4)"><rect class="sw O" y="-11" width="54" height="22"/><text class="lg" x="71" y="9">s: Gp7</text></g>
<g transform="translate(0,981.7)"><rect class="sw O" y="-11" width="54" height="22"/><text class="lg" x="71" y="9">t: Unclassified</text></g>
<g transform="translate(0,1022)"><rect class="sw O" y="-11" width="54" height="22"/><text class="lg" x="71" y="9">u: Unclassified</text></g>
<g transform="translate(0,1062.3)"><rect class="sw B" y="-11" width="54" height="22"/><text class="lg" x="71" y="9">v: Gaiella</text></g>
<g transform="translate(0,1102.6)"><rect class="sw B" y="-11" width="54" height="22"/><text class="lg" x="71" y="9">w: Gaiellaceae</text></g>
<g transform="translate(0,1142.9)"><rect class="sw B" y="-11" width="54" height="22"/><text class="lg" x="71" y="9">x: Gaiellales</text></g>
<g transform="translate(0,1183.2)"><rect class="sw G" y="-11" width="54" height="22"/><text class="lg" x="71" y="9">y: Anoxybacillus</text></g>
<g transform="translate(0,1223.5)"><rect class="sw G" y="-11" width="54" height="22"/><text class="lg" x="71" y="9">z: Bacillaceae1</text></g>
<g transform="translate(0,1263.8)"><rect class="sw G" y="-11" width="54" height="22"/><text class="lg" x="71" y="9">a0: Brevibacillus</text></g>
<g transform="translate(0,1304.1)"><rect class="sw G" y="-11" width="54" height="22"/><text class="lg" x="71" y="9">a1: Paenibacillaceae1</text></g>
<g transform="translate(0,1344.4)"><rect class="sw G" y="-11" width="54" height="22"/><text class="lg" x="71" y="9">a2: Bacillales</text></g>
<g transform="translate(0,1384.7)"><rect class="sw B" y="-11" width="54" height="22"/><text class="lg" x="71" y="9">a3: Gemmatimonas</text></g>
<g transform="translate(0,1425)"><rect class="sw B" y="-11" width="54" height="22"/><text class="lg" x="71" y="9">a4: Gemmatimonadaceae</text></g>
<g transform="translate(0,1482.5)"><rect class="sw B" y="-11" width="60" height="22"/><text class="lg" x="79" y="10" letter-spacing="2">a5: Gemmatimonadales</text></g>
<g transform="translate(0,1522)"><rect class="sw M" y="-11" width="60" height="22"/><text class="lg" x="79" y="10" letter-spacing="2">a6: Rhizomicrobium</text></g>
</g>
<g id="legend-taxa-2" transform="translate(2787,0)">
<g transform="translate(0,222)"><rect class="sw M" y="-11" width="54" height="22"/><text class="lg" x="70" y="9">a7: Unclassified</text></g>
<g transform="translate(0,262.4)"><rect class="sw M" y="-11" width="54" height="22"/><text class="lg" x="70" y="9">a8: Alphaproteobacteria_incertae_sedis</text></g>
<g transform="translate(0,302.8)"><rect class="sw B" y="-11" width="54" height="22"/><text class="lg" x="70" y="9">a9: Sphingomonas</text></g>
<g transform="translate(0,343.2)"><rect class="sw B" y="-11" width="54" height="22"/><text class="lg" x="70" y="9">b0: Sphingomonadaceae</text></g>
<g transform="translate(0,383.6)"><rect class="sw B" y="-11" width="54" height="22"/><text class="lg" x="70" y="9">b1: Sphingomonadales</text></g>
<g transform="translate(0,424)"><rect class="sw L" y="-11" width="54" height="22"/><text class="lg" x="70" y="9">b2: Limnobacter</text></g>
<g transform="translate(0,464.4)"><rect class="sw L" y="-11" width="54" height="22"/><text class="lg" x="70" y="9">b3: Burkholderiaceae</text></g>
<g transform="translate(0,504.8)"><rect class="sw R" y="-11" width="54" height="22"/><text class="lg" x="70" y="9">b4: Hydrogenophaga</text></g>
<g transform="translate(0,545.2)"><rect class="sw R" y="-11" width="54" height="22"/><text class="lg" x="70" y="9">b5: Comamonadaceae</text></g>
<g transform="translate(0,585.6)"><rect class="sw L" y="-11" width="54" height="22"/><text class="lg" x="70" y="9">b6: Burkholderiales</text></g>
<g transform="translate(0,626)"><rect class="sw R" y="-11" width="54" height="22"/><text class="lg" x="70" y="9">b7: Thiobacillus</text></g>
<g transform="translate(0,666.4)"><rect class="sw R" y="-11" width="54" height="22"/><text class="lg" x="70" y="9">b8: Hydrogenophilaceae</text></g>
<g transform="translate(0,706.8)"><rect class="sw R" y="-11" width="54" height="22"/><text class="lg" x="70" y="9">b9: Hydrogenophilales</text></g>
<g transform="translate(0,747.2)"><rect class="sw B" y="-11" width="54" height="22"/><text class="lg" x="70" y="9">c0: Anaeromyxobacter</text></g>
<g transform="translate(0,787.6)"><rect class="sw B" y="-11" width="54" height="22"/><text class="lg" x="70" y="9">c1: Cystobacteraceae</text></g>
<g transform="translate(0,828)"><rect class="sw B" y="-11" width="54" height="22"/><text class="lg" x="70" y="9">c2: Myxococcales</text></g>
<g transform="translate(0,868.4)"><rect class="sw G" y="-11" width="54" height="22"/><text class="lg" x="70" y="9">c3: Escherichia_Shigella</text></g>
<g transform="translate(0,908.8)"><rect class="sw G" y="-11" width="54" height="22"/><text class="lg" x="70" y="9">c4: Enterobacteriaceae</text></g>
<g transform="translate(0,949.2)"><rect class="sw G" y="-11" width="54" height="22"/><text class="lg" x="70" y="9">c5: Enterobacteriales</text></g>
<g transform="translate(0,989.6)"><rect class="sw N" y="-11" width="54" height="22"/><text class="lg" x="70" y="9">c6: Acinetobacter</text></g>
<g transform="translate(0,1030)"><rect class="sw N" y="-11" width="54" height="22"/><text class="lg" x="70" y="9">c7: Moraxellaceae</text></g>
<g transform="translate(0,1070.4)"><rect class="sw B" y="-11" width="54" height="22"/><text class="lg" x="70" y="9">c8: Pseudomonas</text></g>
<g transform="translate(0,1110.8)"><rect class="sw B" y="-11" width="54" height="22"/><text class="lg" x="70" y="9">c9: Pseudomonadaceae</text></g>
<g transform="translate(0,1151.2)"><rect class="sw L" y="-11" width="54" height="22"/><text class="lg" x="70" y="9">d0: Pseudomonadales</text></g>
<g transform="translate(0,1191.6)"><rect class="sw R" y="-11" width="54" height="22"/><text class="lg" x="70" y="9">d1: Arenimonas</text></g>
<g transform="translate(0,1232)"><rect class="sw T" y="-11" width="54" height="22"/><text class="lg" x="70" y="9">d2: Lysobacter</text></g>
<g transform="translate(0,1272.4)"><rect class="sw G" y="-11" width="54" height="22"/><text class="lg" x="70" y="9">d3: Pseudoxanthomonas</text></g>
<g transform="translate(0,1312.8)"><rect class="sw M" y="-11" width="54" height="22"/><text class="lg" x="70" y="9">d4: Silanimonas</text></g>
<g transform="translate(0,1353.2)"><rect class="sw T" y="-11" width="54" height="22"/><text class="lg" x="70" y="9">d5: Xanthomonadaceae</text></g>
<g transform="translate(0,1393.6)"><rect class="sw T" y="-11" width="54" height="22"/><text class="lg" x="70" y="9">d6: Xanthomonadales</text></g>
<g transform="translate(0,1434)"><rect class="sw R" y="-11" width="54" height="22"/><text class="lg" x="70" y="9">d7: Turneriella</text></g>
<g transform="translate(0,1474.4)"><rect class="sw R" y="-11" width="54" height="22"/><text class="lg" x="70" y="9">d8: Leptospiraceae</text></g>
<g transform="translate(0,1514.8)"><rect class="sw R" y="-11" width="54" height="22"/><text class="lg" x="70" y="9">d9: Spirochaetales</text></g>
</g>
</svg>
